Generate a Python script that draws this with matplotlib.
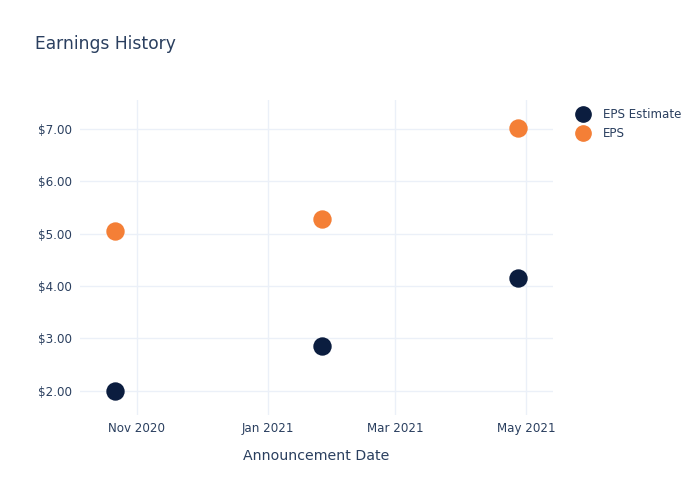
import pandas as pd
import matplotlib.pyplot as plt
import matplotlib.dates as mdates
from matplotlib.ticker import FuncFormatter
from matplotlib.lines import Line2D

# Data
dates = ['2020-10-22', '2021-01-26', '2021-04-27']
eps_estimate = [2.00, 2.85, 4.16]
eps_actual = [5.05, 5.28, 7.02]

text_color = '#2a3f5f'
grid_color = '#ebf0f8'
navy = '#0b1d3f'
orange = '#f47f36'

x = pd.to_datetime(dates)

fig = plt.figure(figsize=(7, 5), dpi=100)
ax = fig.add_axes([80 / 700, 85 / 500, 473 / 700, 315 / 500])

ax.scatter(x, eps_estimate, s=175, color=navy, zorder=3, linewidths=0)
ax.scatter(x, eps_actual, s=175, color=orange, zorder=3, linewidths=0)

# axis ranges
ax.set_xlim(pd.Timestamp('2020-10-05 12:00'), pd.Timestamp('2021-05-13 12:00'))
ax.set_ylim(1.54, 7.55)

ax.xaxis.set_major_locator(mdates.MonthLocator(bymonth=[1, 3, 5, 11]))
ax.xaxis.set_major_formatter(mdates.DateFormatter('%b %Y'))
ax.set_yticks([2, 3, 4, 5, 6, 7])
ax.yaxis.set_major_formatter(FuncFormatter(lambda v, p: f'${v:.2f}'))

ax.grid(True, color=grid_color, linewidth=1, zorder=0)
for s in ax.spines.values():
    s.set_visible(False)
ax.tick_params(length=0, labelsize=8.6, colors=text_color, pad=5)
ax.tick_params(axis='y', pad=6)

ax.set_xlabel('Announcement Date', fontsize=10.2, color=text_color, labelpad=10)

fig.text(35 / 700, 1 - 44 / 500, 'Earnings History', fontsize=12.3,
         color=text_color, va='center', ha='left')

handles = [
    Line2D([], [], marker='o', linestyle='', markersize=11, color=navy),
    Line2D([], [], marker='o', linestyle='', markersize=11, color=orange),
]
leg = fig.legend(handles, ['EPS Estimate', 'EPS'], loc='upper left',
                 bbox_to_anchor=(571 / 700, 1 - 103 / 500), frameon=False,
                 fontsize=8.6, labelcolor=text_color, handletextpad=1.05,
                 labelspacing=0.55, borderaxespad=0, handlelength=1.2)

fig.savefig('out.png', dpi=100)
